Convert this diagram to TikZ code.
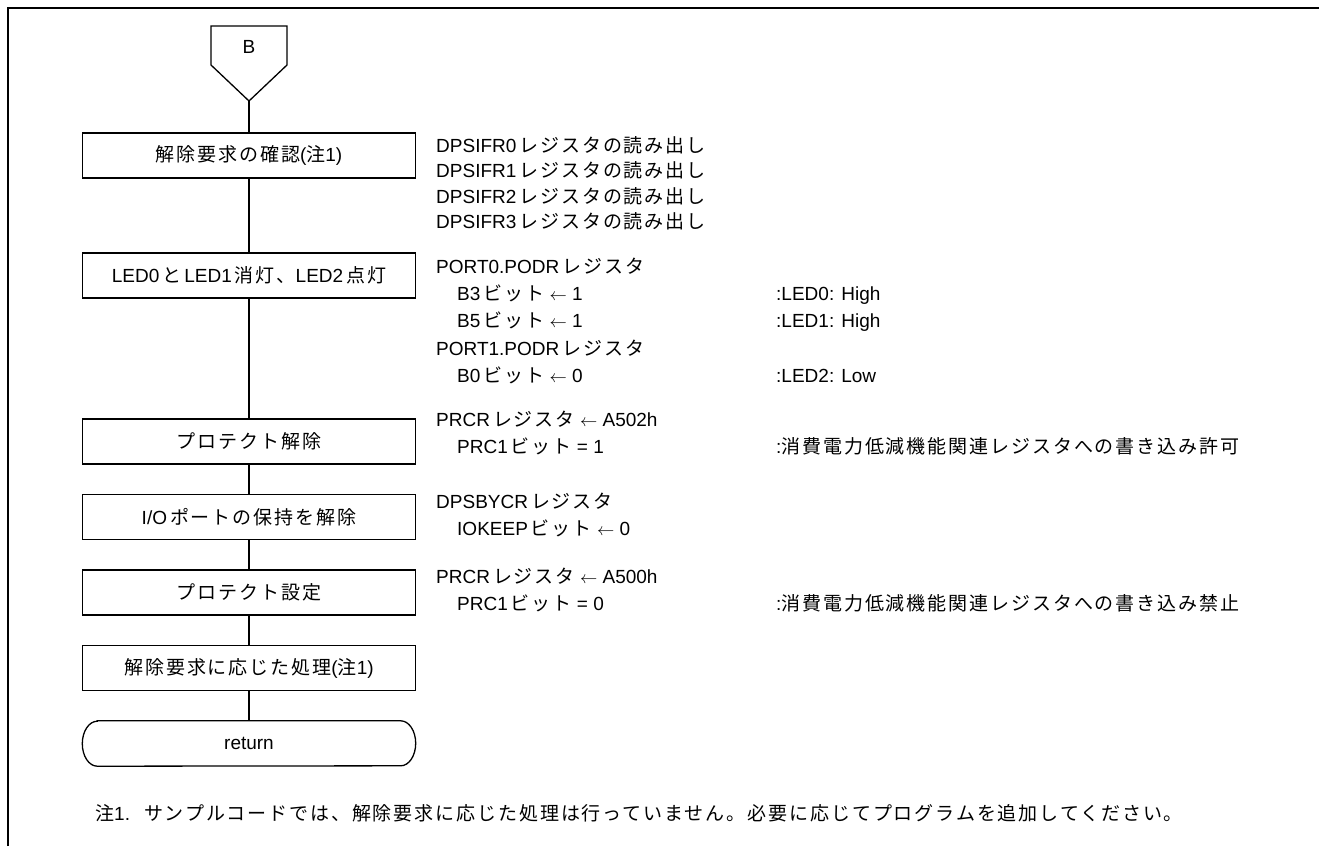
\documentclass[tikz,border=0pt]{standalone}
\usepackage{fontspec}
\setmainfont{Liberation Sans}
\newfontfamily\jpf[LetterSpace=10]{Noto Sans CJK JP}
\newcommand\J[1]{{\jpf #1}}
\newcommand\Jl[1]{\hspace{3pt}{\jpf #1}}
\begin{document}
\begin{tikzpicture}[x=1pt,y=-1pt,
  font=\fontsize{19}{22}\selectfont,
  line/.style={line width=1.3pt},
  proc/.style={draw, line width=1.3pt, minimum width=333pt, minimum height=45pt, inner sep=0pt},
  txt/.style={anchor=west, inner sep=0pt, text height=14pt, text depth=4pt}]
\useasboundingbox (0,0) rectangle (1319,846);
\draw[line width=2.7pt] (8,846) -- (8,8) -- (1319,8);
% off-page connector B
\draw[line] (211,26) -- (287,26) -- (287,65) -- (249,101) -- (211,65) -- cycle;
\node[inner sep=0pt] (B) at (249,47) {B};
\coordinate (Btip) at (249,101);
% process boxes
\node[proc] (b1) at (249,155.5) {\J{解除要求の確認}(\J{注}1)};
\node[proc] (b2) at (249,275.5) {LED0\Jl{と}\hspace{3pt}LED1\Jl{消灯、}LED2\Jl{点灯}};
\node[proc] (b3) at (249,441.5) {\J{プロテクト解除}};
\node[proc] (b4) at (249,517) {I/O\Jl{ポートの保持を解除}};
\node[proc] (b5) at (249,592.5) {\J{プロテクト設定}};
\node[proc] (b6) at (249,668) {\J{解除要求に応じた処理}(\J{注}1)};
\node[minimum width=333pt, minimum height=45pt, inner sep=0pt] (ret) at (249,743.5) {return};
\draw[line] ([xshift=15pt]ret.north west) -- ([xshift=-15pt]ret.north east)
  arc[start angle=90, end angle=-90, x radius=15pt, y radius=22.5pt]
  -- ([xshift=15pt]ret.south west)
  arc[start angle=-90, end angle=-270, x radius=15pt, y radius=22.5pt] -- cycle;
% connectors
\draw[line] (Btip) -- (b1.north);
\draw[line] (b1.south) -- (b2.north);
\draw[line] (b2.south) -- (b3.north);
\draw[line] (b3.south) -- (b4.north);
\draw[line] (b4.south) -- (b5.north);
\draw[line] (b5.south) -- (b6.north);
\draw[line] (b6.south) -- (ret.north);
% descriptions
\node[txt] (t1) at (436,147) {DPSIFR0\Jl{レジスタの読み出し}};
\node[txt] (t2) at (436,172) {DPSIFR1\Jl{レジスタの読み出し}};
\node[txt] (t3) at (436,198) {DPSIFR2\Jl{レジスタの読み出し}};
\node[txt] (t4) at (436,223) {DPSIFR3\Jl{レジスタの読み出し}};
\node[txt] (t5) at (436,268) {PORT0.PODR\Jl{レジスタ}};
\node[txt] (t6) at (457,295) {B3\Jl{ビット} $\leftarrow$ 1};
\node[txt] (t7) at (457,322) {B5\Jl{ビット} $\leftarrow$ 1};
\node[txt] (t8) at (436,350) {PORT1.PODR\Jl{レジスタ}};
\node[txt] (t9) at (457,377) {B0\Jl{ビット} $\leftarrow$ 0};
\node[txt] (c1) at (776,295) {:LED0: High};
\node[txt] (c2) at (776,322) {:LED1: High};
\node[txt] (c3) at (776,377) {:LED2: Low};
\node[txt] (t10) at (436,421) {PRCR\Jl{レジスタ} $\leftarrow$ A502h};
\node[txt] (t11) at (457,448) {PRC1\Jl{ビット} = 1};
\node[txt] (c4) at (776,448) {:\J{消費電力低減機能関連レジスタへの書き込み許可}};
\node[txt] (t12) at (436,503) {DPSBYCR\Jl{レジスタ}};
\node[txt] (t13) at (457,530) {IOKEEP\Jl{ビット} $\leftarrow$ 0};
\node[txt] (t14) at (436,578) {PRCR\Jl{レジスタ} $\leftarrow$ A500h};
\node[txt] (t15) at (457,605) {PRC1\Jl{ビット} = 0};
\node[txt] (c5) at (776,605) {:\J{消費電力低減機能関連レジスタへの書き込み禁止}};
\node[txt] (note) at (95,815) {\J{注}1.\hspace{14pt}\J{サンプルコードでは、解除要求に応じた処理は行っていません。必要に応じてプログラムを追加してください。}};
\end{tikzpicture}
\end{document}
